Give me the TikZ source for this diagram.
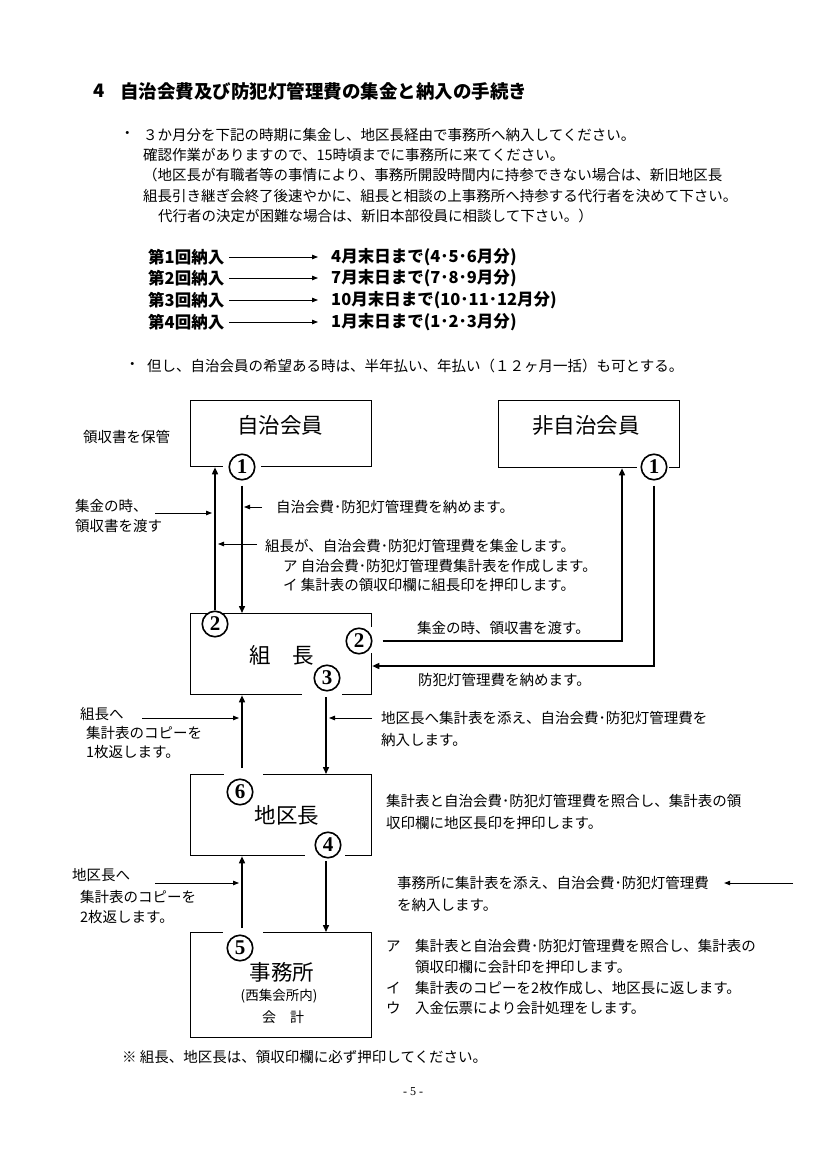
\documentclass[tikz,border=0pt]{standalone}
\usepackage{fontspec}
\setmainfont{Noto Sans CJK JP}
\newfontfamily\seriffont{Liberation Serif}
\usetikzlibrary{arrows.meta,calc}
\newcommand\jfs[1]{\fontsize{#1}{#1}\selectfont}
\tikzset{
  box/.style={draw, line width=1.3pt, inner sep=0, anchor=north west},
  flow/.style={line width=1.5pt, -{Triangle[length=7pt,width=6pt]}},
  ptr/.style={line width=0.8pt, -{Triangle[length=6pt,width=4.5pt]}},
  t/.style={anchor=west, inner sep=0, font=\jfs{14.5}},
  tb/.style={anchor=west, inner sep=0, font=\jfs{16.5}\bfseries},
  lbl/.style={inner sep=0, font=\jfs{21.5}},
  num/.style={circle, draw, line width=1.6pt, fill=white, inner sep=0, minimum size=25.5pt, font=\seriffont\jfs{21}\bfseries},
  gap/.style={fill=white}
}
\begin{document}
\begin{tikzpicture}[x=1pt,y=-1pt]
\useasboundingbox (0,0) rectangle (826,1169);
\fill[white] (0,0) rectangle (826,1169);

% title and intro
\node[anchor=west, inner sep=0, font=\jfs{18.5}\bfseries] (tn) at (93,91) {4};
\node[anchor=west, inner sep=0, font=\jfs{18.5}\bfseries] (title) at (120,91) {自治会費及び防犯灯管理費の集金と納入の手続き};
\node[t] (b1) at (120,135) {・};
\node[t] (l1) at (143,135) {３か月分を下記の時期に集金し、地区長経由で事務所へ納入してください。};
\node[t] (l2) at (143,155) {確認作業がありますので、15時頃までに事務所に来てください。};
\node[t] (l3) at (143,175) {（地区長が有職者等の事情により、事務所開設時間内に持参できない場合は、新旧地区長};
\node[t] (l4) at (143,196) {組長引き継ぎ会終了後速やかに、組長と相談の上事務所へ持参する代行者を決めて下さい。};
\node[t] (l5) at (158,216) {代行者の決定が困難な場合は、新旧本部役員に相談して下さい。）};

% schedule
\node[tb] (s1) at (148,257) {第1回納入};
\node[tb] (s2) at (148,278) {第2回納入};
\node[tb] (s3) at (148,300) {第3回納入};
\node[tb] (s4) at (148,322) {第4回納入};
\node[tb] (d1) at (331,257) {4月末日まで(4･5･6月分)};
\node[tb] (d2) at (331,278) {7月末日まで(7･8･9月分)};
\node[tb] (d3) at (331,300) {10月末日まで(10･11･12月分)};
\node[tb] (d4) at (331,322) {1月末日まで(1･2･3月分)};
\foreach \i in {1,...,4}{
  \draw[ptr, shorten <=5pt, shorten >=13pt] (s\i.east) -- (d\i.west);
}
\node[t] (b2) at (125,366) {・};
\node[t] (l6) at (147,366) {但し、自治会員の希望ある時は、半年払い、年払い（１２ヶ月一括）も可とする。};

% boxes
\node[box, minimum width=181pt, minimum height=66pt] (jichi) at (190,400) {};
\node[box, minimum width=181pt, minimum height=67pt] (hijichi) at (498,400) {};
\node[box, minimum width=181pt, minimum height=81pt] (kumicho) at (190,613) {};
\node[box, minimum width=181pt, minimum height=81pt] (chikucho) at (190,774) {};
\node[box, minimum width=181pt, minimum height=105pt] (jimusho) at (190,932) {};

% gaps in borders
\fill[gap] (223,461) rectangle (261,472);
\fill[gap] (637,461) rectangle (669,472);
\fill[gap] (366,627) rectangle (376,653);
\fill[gap] (302,689) rectangle (342,699);
\fill[gap] (224,769) rectangle (263,779);
\fill[gap] (305,850) rectangle (345,860);
\fill[gap] (223,927) rectangle (263,937);

% box labels
\node[lbl] (jichiL) at (280,425) {自治会員};
\node[lbl] (hijichiL) at (586,425) {非自治会員};
\node[lbl] (kumichoL) at (282,655) {組　長};
\node[lbl] (chikuchoL) at (287,815) {地区長};
\node[lbl] (jimushoL) at (282,972) {事務所};
\node[inner sep=0, font=\jfs{13.5}] (jimushoS) at (279,996) {(西集会所内)};
\node[inner sep=0, font=\jfs{14}] (kaikei) at (283,1017) {会　計};

% circled numbers
\node[num] (c1a) at (242,467) {1};
\node[num] (c1b) at (654,467) {1};
\node[num] (c2a) at (215,624) {2};
\node[num] (c2b) at (359,641) {2};
\node[num] (c3) at (327,678) {3};
\node[num] (c6) at (240,792) {6};
\node[num] (c4) at (328,845) {4};
\node[num] (c5) at (240,948) {5};

% main flows
\draw[flow] (c2a.north) -- (c2a.north |- jichi.south);
\draw[flow, shorten <=5pt] (c1a.south) -- (c1a.south |- kumicho.north);
\draw[flow, shorten <=10pt] (c2b.east) -| ($(hijichi.south west)+(124,0)$);
\draw[flow, shorten <=5pt] (c1b.south) |- (kumicho.east |- 0,666);
\draw[flow] ($(chikucho.north west)+(52,-6)$) -- ($(kumicho.south west)+(52,0)$);
\draw[flow] ($(kumicho.south west)+(136,2)$) -- ($(chikucho.north west)+(136,0)$);
\draw[flow] ($(jimusho.north west)+(52,-4)$) -- ($(chikucho.south west)+(52,0)$);
\draw[flow] ($(chikucho.south west)+(136,5)$) -- ($(jimusho.north west)+(136,0)$);

% labels and pointers
\node[t] (keep) at (83,437) {領収書を保管};
\node[t] (ga1) at (75,506) {集金の時、};
\node[t] (ga2) at (75,526) {領収書を渡す};
\coordinate (pa) at (155,513);
\draw[ptr] (pa) -- ($(pa -| c2a)+(-3,0)$);

\coordinate (pb) at (262,507);
\draw[ptr] (pb) -- ($(pb -| c1a)+(2,0)$);
\node[t] (gb) at (276,507) {自治会費･防犯灯管理費を納めます。};

\coordinate (pc) at (257,544);
\draw[ptr] (pc) -- ($(pc -| c2a)+(3,0)$);
\node[t] (gc1) at (265,546) {組長が、自治会費･防犯灯管理費を集金します。};
\node[t] (gc2) at (283,566) {ア 自治会費･防犯灯管理費集計表を作成します。};
\node[t] (gc3) at (283,585) {イ 集計表の領収印欄に組長印を押印します。};

\node[t] (gd) at (417,628) {集金の時、領収書を渡す。};
\node[t] (ge) at (418,680) {防犯灯管理費を納めます。};

\node[t] (gf1) at (80,714) {組長へ};
\node[t] (gf2) at (86,733) {集計表のコピーを};
\node[t] (gf3) at (86,752) {1枚返します。};
\coordinate (pf) at (142,718);
\draw[ptr] (pf) -- ($(pf -| chikucho.north west)+(49,0)$);

\coordinate (pg) at (372,718);
\draw[ptr] (pg) -- ($(pg -| kumicho.south west)+(139,0)$);
\node[t] (gg1) at (381,718) {地区長へ集計表を添え、自治会費･防犯灯管理費を};
\node[t] (gg2) at (381,740) {納入します。};

\node[t] (gh1) at (386,801) {集計表と自治会費･防犯灯管理費を照合し、集計表の領};
\node[t] (gh2) at (386,823) {収印欄に地区長印を押印します。};

\node[t] (gi1) at (72,875) {地区長へ};
\node[t] (gi2) at (80,897) {集計表のコピーを};
\node[t] (gi3) at (80,917) {2枚返します。};
\coordinate (pi) at (155,883);
\draw[ptr] (pi) -- ($(pi -| jimusho.north west)+(49,0)$);

\node[t] (gj1) at (397,883) {事務所に集計表を添え、自治会費･防犯灯管理費};
\node[t] (gj2) at (397,905) {を納入します。};
\coordinate (pj) at (793,883);
\draw[ptr] (pj) -- ($(gj1.east)+(15,0)$);

\node[t] (gk1) at (386,946) {ア};
\node[t] (gk1b) at (415,946) {集計表と自治会費･防犯灯管理費を照合し、集計表の};
\node[t] (gk2) at (415,967) {領収印欄に会計印を押印します。};
\node[t] (gk3) at (386,988) {イ};
\node[t] (gk3b) at (415,988) {集計表のコピーを2枚作成し、地区長に返します。};
\node[t] (gk4) at (386,1008) {ウ};
\node[t] (gk4b) at (415,1008) {入金伝票により会計処理をします。};

\node[t] (note) at (122,1057) {※ 組長、地区長は、領収印欄に必ず押印してください。};
\node[inner sep=0, font=\seriffont\jfs{12}] (page) at (413,1092) {- 5 -};
\end{tikzpicture}
\end{document}
